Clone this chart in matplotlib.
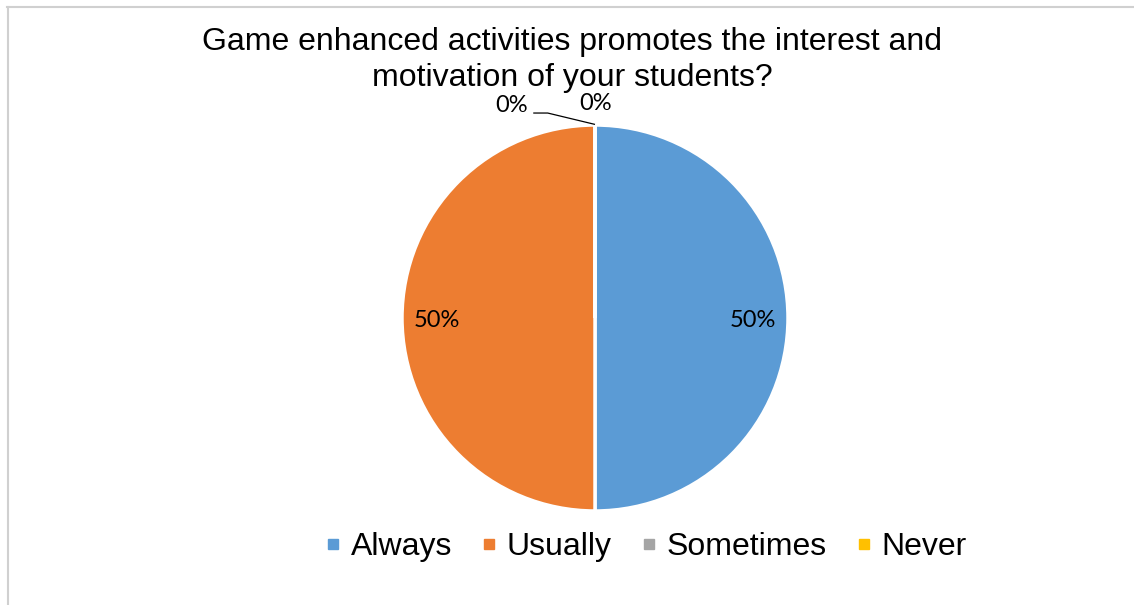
import numpy as np
import matplotlib.pyplot as plt
from matplotlib.lines import Line2D

categories = ["Always", "Usually", "Sometimes", "Never"]
values = [50, 50, 0, 0]
colors = ["#5B9BD5", "#ED7D31", "#A5A5A5", "#FFC000"]
title = "Game enhanced activities promotes the interest and\nmotivation of your students?"

W, H = 1134, 605
fig = plt.figure(figsize=(W / 100, H / 100), dpi=100)
fig.patch.set_facecolor("white")

# outer chart-area frame (top and left edges)
fig.add_artist(Line2D([7 / W, 1], [1 - 7 / H, 1 - 7 / H], color="#D0D0D0", lw=1.5))
fig.add_artist(Line2D([7.5 / W, 7.5 / W], [0, 1 - 7 / H], color="#D0D0D0", lw=1.5))

cx, cy, r = 595, 318, 193
ax = fig.add_axes([(cx - r) / W, (H - cy - r) / H, 2 * r / W, 2 * r / H])
wedges, _ = ax.pie(values, colors=colors, startangle=90, counterclock=False,
                   wedgeprops=dict(edgecolor="white", linewidth=2.5))
ax.set_xlim(-1, 1)
ax.set_ylim(-1, 1)
ax.set_aspect("equal")

label_font = dict(family="Lato", fontsize=17, color="#000000")
total = sum(values)
for w, v in zip(wedges, values):
    mid = np.deg2rad((w.theta1 + w.theta2) / 2)
    pct = f"{v / total * 100:.0f}%"
    if v > 0:
        ax.text(0.82 * np.cos(mid), 0.82 * np.sin(mid) - 0.015, pct,
                ha="center", va="center", **label_font)

# zero-valued slices sit at the top of the pie
zero = [(w, v) for w, v in zip(wedges, values) if v == 0]
if len(zero) >= 2:
    w_s, v_s = zero[0]
    w_n, v_n = zero[1]
    a = np.deg2rad(w_s.theta1)
    ax0, ay0 = np.cos(a), np.sin(a)
    ax.text(ax0 - 0.35, ay0 + 0.1, f"{v_s / total * 100:.0f}%",
            ha="right", va="center", **label_font)
    # leader line: short horizontal run, then down to the slice edge
    ax.plot([ax0 - 0.32, ax0 - 0.245, ax0], [ay0 + 0.062, ay0 + 0.062, ay0 + 0.003],
            color="black", lw=0.9, clip_on=False, solid_capstyle="butt")
    a = np.deg2rad(w_n.theta1)
    ax.text(np.cos(a) + 0.005, np.sin(a) + 0.11, f"{v_n / total * 100:.0f}%",
            ha="center", va="center", **label_font)

fig.text(572 / W, 1 - 60 / H, title, ha="center", va="center",
         family="Liberation Sans", fontsize=23, linespacing=1.22)

handles = [Line2D([0], [0], marker="s", linestyle="none", markersize=7,
                  markerfacecolor=c, markeredgecolor=c) for c in colors]
fig.legend(handles, categories, loc="center", bbox_to_anchor=(642 / W, 1 - 547 / H),
           ncol=4, frameon=False, prop=dict(family="Liberation Sans", size=23),
           handletextpad=0.05, columnspacing=0.66, handlelength=1.0)

fig.savefig("out.png", dpi=100)
